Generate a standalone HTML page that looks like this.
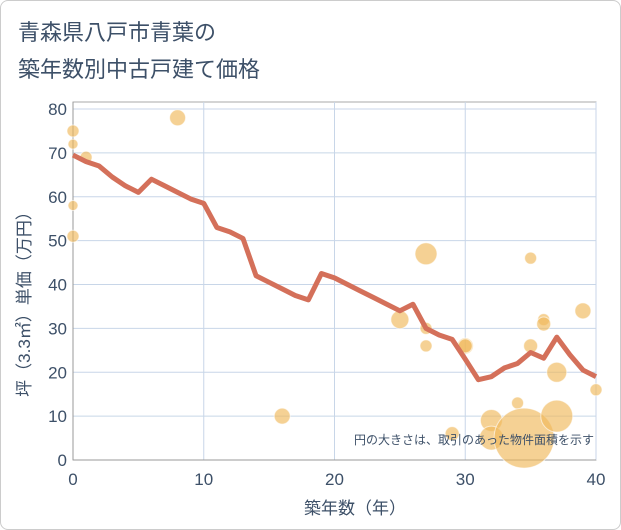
<!DOCTYPE html>
<html><head><meta charset="utf-8"><style>
body{margin:0;background:#fff;font-family:"Liberation Sans","Noto Sans CJK JP",sans-serif}
#wrap{position:relative;width:619px;height:528px;border:1px solid #ccc;border-radius:8px;overflow:hidden}
</style></head><body>
<div id="wrap">
<svg id="c" width="621" height="530" style="position:absolute;left:-1px;top:-1px"></svg>
</div>
<script>
const xTicks=[0,10,20,30,40];
const yTicks=[0,10,20,30,40,50,60,70,80];
const lineX=[0,1,2,3,4,5,6,7,8,9,10,11,12,13,14,15,16,17,18,19,20,21,22,23,24,25,26,27,28,29,30,31,32,33,34,35,36,37,38,39,40];
const lineY=[69.5,68,67,64.5,62.5,61,64,62.5,61,59.5,58.5,53,52,50.5,42,40.5,39,37.5,36.5,42.5,41.5,40,38.5,37,35.5,34,35.5,30,28.5,27.5,23,18.3,19,21,22,24.5,23.2,28,24,20.5,19];
const bubX=[0,0,1,0,0,8,16,25,27,27,27,29,30,30,32,32,34,34.5,35,35,36,36,37,37,39,40];
const bubY=[75,72,69,58,51,78,10,32,47,30,26,6,26,26,9,5,13,5,46,26,32,31,20,10,34,16];
const bubR=[6,5,6,5,6,8,8,9,11,6,6,7,8,7,11,12,6,30,6,7,6,7,10,16,8,6];
const NS="http://www.w3.org/2000/svg",svg=document.getElementById('c');
const X=v=>73+v*13.075, Y=v=>460-v*4.3875;
function mk(t,a,p){const e=document.createElementNS(NS,t);for(const k in a)e.setAttribute(k,a[k]);(p||svg).appendChild(e);return e;}
const T=(x,y,s,txt,anchor,fs,nm)=>{const e=mk('text',{x:x,y:y,'font-size':fs,fill:'#3d5068','text-anchor':anchor});e.textContent=txt;return e;};
T(18,40,0,'青森県八戸市青葉の','start',22,'title-line1');
T(18,77,0,'築年数別中古戸建て価格','start',22,'title-line2');
mk('rect',{x:73,y:102,width:523,height:358,fill:'#fff',stroke:'#aaa'});
yTicks.forEach(v=>{const l=mk('line',{x1:73,x2:596,y1:Y(v),y2:Y(v),stroke:'#c8d6e8'});
T(67,Y(v)+6,0,String(v),'end',17,'y-tick-label');});
xTicks.forEach(v=>{const l=mk('line',{x1:X(v),x2:X(v),y1:102,y2:460,stroke:'#c8d6e8'});
T(X(v),485,0,String(v),'middle',17,'x-tick-label');});
mk('line',{x1:73,x2:73,y1:102,y2:460,stroke:'#999'});
mk('line',{x1:73,x2:596,y1:460,y2:460,stroke:'#999'});
const g=mk('g',{});
bubX.forEach((v,i)=>{const c=mk('circle',{cx:X(v),cy:Y(bubY[i]),r:bubR[i],fill:'rgba(240,185,90,0.65)',stroke:'rgba(255,255,255,0.6)'},g);
});
const p=mk('polyline',{points:lineX.map((v,i)=>X(v)+','+Y(lineY[i])).join(' '),fill:'none',stroke:'#d4705a','stroke-width':5,'stroke-linejoin':'round'});

T(594,444,0,'円の大きさは、取引のあった物件面積を示す','end',12,'bubble-size-note');
T(355,514,0,'築年数（年）','middle',17,'x-axis-title');
const yt=T(0,0,0,'坪（3.3㎡）単価（万円）','middle',17,'y-axis-title');
yt.setAttribute('transform','translate(30,300) rotate(-90)');
</script>
</body></html>
